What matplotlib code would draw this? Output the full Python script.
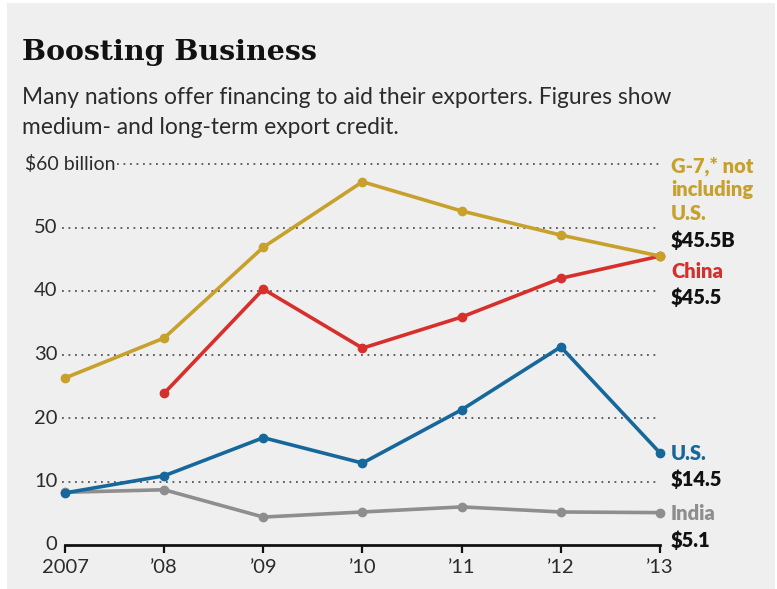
import matplotlib
matplotlib.use("Agg")
import matplotlib.pyplot as plt
from matplotlib.patches import Rectangle
import matplotlib.transforms as mtransforms

years = [2007, 2008, 2009, 2010, 2011, 2012, 2013]
year_labels = ["2007", "\u201908", "\u201909", "\u201910", "\u201911", "\u201912", "\u201913"]
g7 = [26.3, 32.6, 46.9, 57.2, 52.6, 48.8, 45.5]
china_years = [2008, 2009, 2010, 2011, 2012, 2013]
china = [23.9, 40.3, 31.0, 35.9, 42.0, 45.5]
us = [8.2, 10.9, 16.9, 12.9, 21.3, 31.2, 14.5]
india = [8.3, 8.7, 4.4, 5.2, 6.0, 5.2, 5.1]
yticks = [0, 10, 20, 30, 40, 50]
ytick_labels = ["0", "10", "20", "30", "40", "50"]

C_G7 = "#c8a02c"
C_CN = "#d72f2c"
C_US = "#16689a"
C_IN = "#8e8e8e"
BG = "#efefef"
TXT = "#2b2b2b"

W, H = 777, 589
fig = plt.figure(figsize=(W / 100, H / 100), dpi=100)
fig.patch.set_facecolor("white")
fig.add_artist(Rectangle((7 / W, 0), (775 - 7) / W, (586) / H, transform=fig.transFigure,
                         facecolor=BG, edgecolor="none", zorder=0))

# axes in pixel coords
x0, x1 = 65, 660
y0, y1 = 545, 164
ax = fig.add_axes([x0 / W, 1 - y0 / H, (x1 - x0) / W, (y0 - y1) / H])
ax.set_facecolor("none")
ax.set_xlim(2007, 2013)
ax.set_ylim(0, 60)
for s in ["top", "right", "left"]:
    ax.spines[s].set_visible(False)
ax.spines["bottom"].set_linewidth(2)
ax.spines["bottom"].set_color("#111111")
ax.set_xticks(years)
ax.set_xticklabels(year_labels, fontsize=14.5, color=TXT, family="Lato")
ax.tick_params(axis="x", length=6, width=1.6, color="#111111", pad=4, direction="out")
ax.set_yticks([])

# dotted gridlines + y labels
blend = mtransforms.blended_transform_factory(ax.transAxes, ax.transData)
for v, lab in zip(yticks, ytick_labels):
    if v > 0:
        ax.plot([-0.005, 1.0], [v, v], transform=blend, color="#555555", lw=1.3,
                linestyle=(0, (1, 2.6)), clip_on=False, zorder=1)
    ax.text(-0.013, v, lab, transform=blend, ha="right", va="center", fontsize=14.5,
            color=TXT, family="Lato")
ax.plot([0.088, 1.0], [60, 60], transform=blend, color="#555555", lw=1.3,
        linestyle=(0, (1, 2.6)), clip_on=False, zorder=1)
ax.text(0.085, 60, "$60 billion", transform=blend, ha="right", va="center", fontsize=14,
        color=TXT, family="Lato")

kw = dict(lw=2.6, marker="o", markersize=6, clip_on=False, zorder=3)
ax.plot(years, india, color=C_IN, **kw)
ax.plot(years, us, color=C_US, **kw)
ax.plot(china_years, china, color=C_CN, **kw)
ax.plot(years, g7, color=C_G7, **kw)

# right-side labels
def rlab(ypix, s, color):
    fig.text(671 / W, 1 - ypix / H, s, ha="left", va="center", fontsize=14.5,
             fontweight="heavy", color=color, family="Lato")

rlab(166, "G-7,* not", C_G7)
rlab(190, "including", C_G7)
rlab(214, "U.S.", C_G7)
rlab(240, "$45.5B", "#111111")
rlab(271, "China", C_CN)
rlab(297, "$45.5", "#111111")
rlab(454, "U.S.", C_US)
rlab(479, "$14.5", "#111111")
rlab(514, "India", C_IN)
rlab(540, "$5.1", "#111111")

# title and subtitle
fig.text(22 / W, 1 - 53 / H, "Boosting Business", ha="left", va="center", fontsize=20.5,
         fontweight="bold", family="DejaVu Serif", color="#111111")
fig.text(22 / W, 1 - 97 / H, "Many nations offer financing to aid their exporters. Figures show",
         ha="left", va="center", fontsize=16.4, family="Lato", color=TXT)
fig.text(22 / W, 1 - 127 / H, "medium- and long-term export credit.",
         ha="left", va="center", fontsize=16.4, family="Lato", color=TXT)

fig.savefig("out.png", dpi=100, facecolor=fig.get_facecolor())
